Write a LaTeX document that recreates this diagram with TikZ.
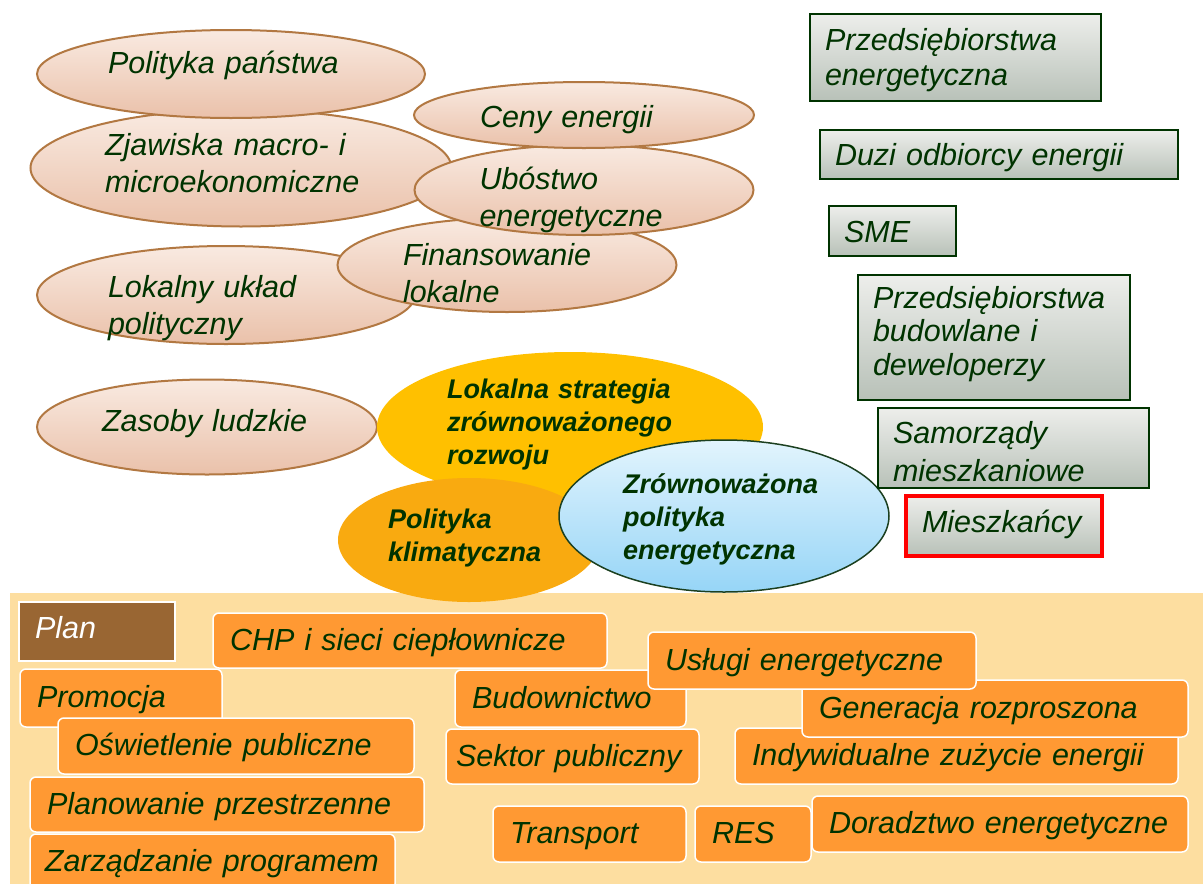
\documentclass[tikz,border=0pt]{standalone}
\usepackage{fontspec}
\setmainfont{Liberation Sans}
\usepackage{tikz}
\usetikzlibrary{shapes.geometric}

\definecolor{txtgreen}{RGB}{0,51,0}
\definecolor{pinktop}{RGB}{249,234,225}
\definecolor{pinkbot}{RGB}{234,193,170}
\definecolor{pinkedge}{RGB}{178,120,66}
\definecolor{goldell}{RGB}{255,192,0}
\definecolor{orangeell}{RGB}{249,170,16}
\definecolor{bluetop}{RGB}{226,244,253}
\definecolor{bluebot}{RGB}{150,213,247}
\definecolor{blueedge}{RGB}{28,64,32}
\definecolor{greytop}{RGB}{237,238,235}
\definecolor{greybot}{RGB}{184,193,184}
\definecolor{boxedge}{RGB}{0,51,0}
\definecolor{panelbeige}{RGB}{253,222,160}
\definecolor{boxorange}{RGB}{255,153,51}
\definecolor{planbrown}{RGB}{153,102,51}

\newcommand{\outerfont}{\fontsize{30.5}{37}\selectfont\itshape}
\newcommand{\innerfont}{\fontsize{27}{33}\selectfont\bfseries\itshape}

\begin{document}
\begin{tikzpicture}[x=1pt, y=-1pt,
		pinkell/.style={ellipse, draw=pinkedge, line width=2pt, top color=pinktop, bottom color=pinkbot, inner sep=-40pt, align=left, text=txtgreen, font=\outerfont},
		midell/.style={ellipse, inner sep=-40pt, align=left, text=txtgreen, font=\innerfont},
		greybox/.style={rectangle, draw=boxedge, line width=2.5pt, top color=greytop, bottom color=greybot, inner xsep=15pt, align=left, text=txtgreen, font=\outerfont},
		planbox/.style={rectangle, rounded corners=6pt, draw=white, line width=1.5pt, fill=boxorange, inner xsep=17pt, align=left, text=txtgreen, font=\outerfont, text height=24.5pt, text depth=5.5pt}]
		
		\useasboundingbox (0,0) rectangle (1203,884);
		
		% Plan area
		\node[fill=panelbeige, minimum width=1193pt, minimum height=300pt, inner sep=0pt] (planarea) at (606.5,743) {};
		
		% Pink ellipses
		\node[pinkell, minimum width=421pt, minimum height=117pt, text width=272pt, text height=17pt, text depth=43pt] (zjawiska) at (241,168) {Zjawiska macro- i\\microekonomiczne};
		\node[pinkell, minimum width=388pt, minimum height=88pt, text width=246pt, text height=29pt, text depth=31pt] (polpanstwa) at (231,74) {Polityka państwa};
		\node[pinkell, minimum width=378pt, minimum height=98pt, text width=236pt, text height=32pt, text depth=28pt] (lokuklad) at (226,295) {Lokalny układ\\polityczny};
		\node[pinkell, minimum width=339pt, minimum height=94pt, text width=208pt, text height=30pt, text depth=30pt] (finans) at (507,265) {Finansowanie\\lokalne};
		\node[pinkell, minimum width=339pt, minimum height=90pt, text width=209pt, text height=29pt, text depth=31pt] (ubostwo) at (584,190) {Ubóstwo\\energetyczne};
		\node[pinkell, minimum width=340pt, minimum height=66pt, text width=208pt, text height=42pt, text depth=18pt] (ceny) at (584,115) {Ceny energii};
		\node[pinkell, minimum width=340pt, minimum height=95pt, text width=210pt, text height=34pt, text depth=26pt] (zasoby) at (207,427) {Zasoby ludzkie};
		
		% Strategy ellipses
		\node[midell, fill=goldell, minimum width=386pt, minimum height=150pt, text width=246pt, text height=1pt, text depth=59pt] (strategia) at (570,427) {Lokalna strategia\\zrównoważonego\\rozwoju};
		\node[midell, fill=orangeell, minimum width=262pt, minimum height=124pt, text width=162pt, text height=18pt, text depth=42pt] (klimat) at (469,540) {Polityka\\klimatyczna};
		\node[midell, draw=blueedge, line width=1.5pt, top color=bluetop, bottom color=bluebot, minimum width=330pt, minimum height=152pt, text width=202pt, text height=7pt, text depth=53pt] (zpe) at (724,516) {Zrównoważona\\polityka\\energetyczna};
		
		% Stakeholder boxes
		\node[greybox, minimum width=291pt, minimum height=87pt, text width=261pt, text height=22.5pt, text depth=37.5pt, font=\fontsize{30.5}{35}\selectfont\itshape] (przedsen) at (955.5,57.5) {Przedsiębiorstwa\\energetyczna};
		\node[greybox, minimum width=358pt, minimum height=49pt, text width=328pt, text height=25.5pt, text depth=4.5pt] (duzi) at (999,154.5) {Duzi odbiorcy energii};
		\node[greybox, minimum width=127pt, minimum height=50pt, text width=97pt, text height=26pt, text depth=4pt] (sme) at (892.5,231) {SME};
		\node[greybox, minimum width=272pt, minimum height=125pt, text width=242pt, text height=20.5pt, text depth=79.5pt, font=\fontsize{30.5}{33.5}\selectfont\itshape] (przedsbud) at (994,337.5) {Przedsiębiorstwa\\budowlane i\\deweloperzy};
		\node[greybox, minimum width=271pt, minimum height=80pt, text width=241pt, text height=25pt, text depth=35pt, font=\fontsize{30.5}{38}\selectfont\itshape] (samorzady) at (1013.5,448) {Samorządy\\mieszkaniowe};
		\node[greybox, draw=red, line width=4pt, minimum width=196pt, minimum height=60pt, text width=164pt, inner xsep=16pt, text height=21.5pt, text depth=8.5pt] (mieszkancy) at (1004,525.5) {Mieszkańcy};
		
		% Plan boxes
		\node[rectangle, draw=white, line width=2pt, fill=planbrown, text=white, font=\outerfont, align=left, minimum width=156pt, minimum height=59pt, text width=124pt, inner xsep=16pt, text height=21.5pt, text depth=8.5pt] (plan) at (97,631.5) {Plan};
		\node[planbox, minimum width=394pt, minimum height=55pt, text width=360pt] (chp) at (410,640.5) {CHP i sieci ciepłownicze};
		\node[planbox, minimum width=202pt, minimum height=58pt, text width=168pt] (promocja) at (121,698) {Promocja};
		\node[planbox, minimum width=356pt, minimum height=56pt, text width=322pt] (oswietlenie) at (236,746) {Oświetlenie publiczne};
		\node[planbox, minimum width=394pt, minimum height=55pt, text width=360pt] (planowanie) at (227,804.5) {Planowanie przestrzenne};
		\node[planbox, minimum width=365pt, minimum height=56pt, text width=335pt, inner xsep=15pt] (zarzadzanie) at (212.5,862) {Zarządzanie programem};
		\node[planbox, minimum width=231pt, minimum height=57pt, text width=197pt] (budownictwo) at (570.5,698.5) {Budownictwo};
		\node[planbox, minimum width=253pt, minimum height=55pt, text width=233pt, inner xsep=10pt] (sektor) at (572.5,756.5) {Sektor publiczny};
		\node[planbox, minimum width=193pt, minimum height=56pt, text width=159pt] (transport) at (589.5,834) {Transport};
		\node[planbox, minimum width=116pt, minimum height=56pt, text width=82pt] (res) at (753,834) {RES};
		\node[planbox, minimum width=376pt, minimum height=56pt, text width=342pt] (doradztwo) at (1000,824) {Doradztwo energetyczne};
		\node[planbox, minimum width=443pt, minimum height=56pt, text width=409pt] (indywidualne) at (956.5,756) {Indywidualne zużycie energii};
		\node[planbox, minimum width=386pt, minimum height=57pt, text width=352pt] (generacja) at (995,708.5) {Generacja rozproszona};
		\node[planbox, minimum width=328pt, minimum height=57pt, text width=294pt] (uslugi) at (812,660.5) {Usługi energetyczne};
		
\end{tikzpicture}
\end{document}
